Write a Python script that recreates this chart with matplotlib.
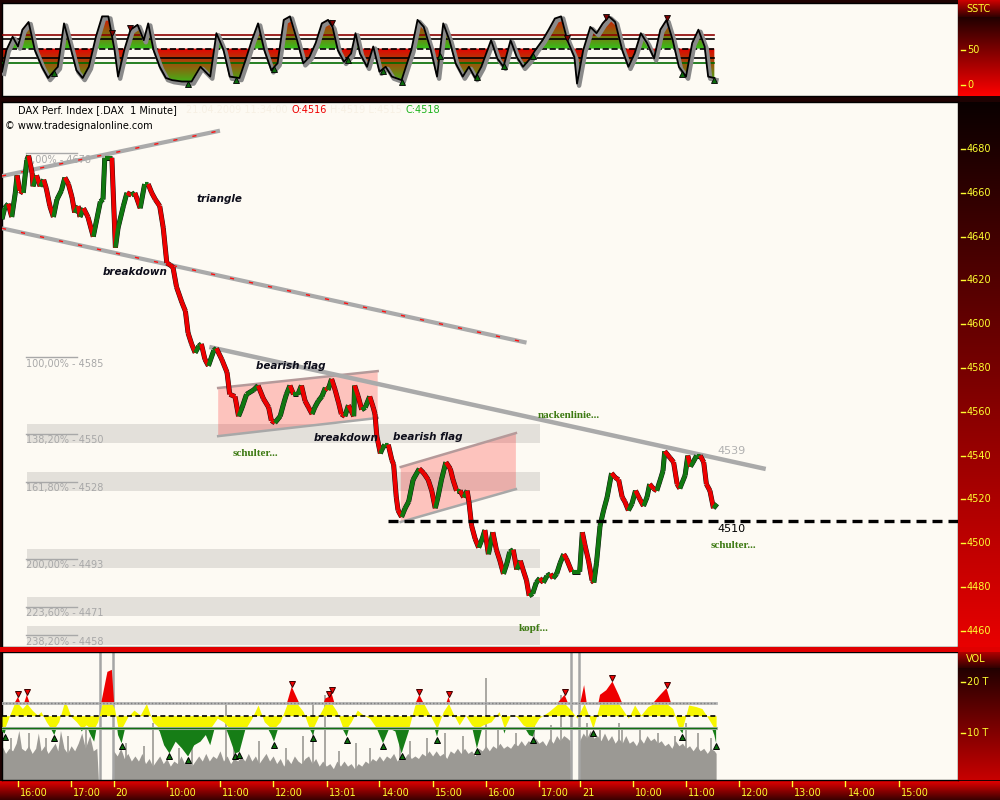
import numpy as np
import matplotlib
matplotlib.use("Agg")
import matplotlib.pyplot as plt
from matplotlib.collections import LineCollection
from matplotlib.colors import LinearSegmentedColormap
from matplotlib.patches import Rectangle, Polygon
from matplotlib.path import Path
import matplotlib.patheffects as pe

# ---------------- data (x = trading-minute index from first bar) ----------------
price_m = [0, 3, 7, 11, 15, 17, 20, 24, 28, 30, 34, 35, 39, 43, 47, 50, 54, 58, 62, 67,
           71, 75, 79, 82, 86, 88, 92, 97, 103, 107, 111, 114, 116, 124, 128, 131, 137, 141, 146, 150,
           156, 161, 165, 169, 173, 178, 182, 186, 190, 193, 197, 203, 207, 210, 214, 218, 222, 225, 229, 233,
           239, 242, 248, 254, 257, 263, 267, 271, 276, 284, 289, 295, 301, 304, 308, 314, 318, 321, 325, 329,
           334, 338, 342, 346, 350, 353, 357, 361, 365, 368, 372, 376, 380, 383, 387, 391, 397, 398, 402, 406,
           410, 415, 419, 421, 423, 427, 429, 432, 436, 440, 442, 445, 447, 451, 455, 459, 464, 471, 476, 481,
           485, 489, 492, 496, 501, 506, 509, 513, 517, 521, 525, 527, 530, 534, 538, 542, 545, 549, 554, 558,
           562, 566, 570, 573, 577, 581, 585, 588, 592, 595, 599, 603, 607, 611, 615, 619, 622, 626, 630, 634,
           637, 643, 652, 655, 658, 662, 666, 668, 671, 675, 679, 683, 688, 692, 696, 700, 703, 707, 711, 715,
           720, 724, 728, 731, 735, 739, 743, 746, 748, 754, 758, 762, 765, 771, 774, 777, 780, 784, 788, 792,
           795, 799, 803, 807]
price_close = [4648, 4653, 4655, 4649, 4660, 4668, 4661, 4660, 4675, 4677, 4669, 4663, 4668, 4663, 4666, 4662, 4654, 4649, 4657, 4661,
               4667, 4664, 4658, 4651, 4654, 4649, 4653, 4649, 4640, 4648, 4656, 4657, 4676, 4676, 4635, 4644, 4654, 4660, 4659, 4660,
               4653, 4664, 4664, 4660, 4657, 4654, 4644, 4628, 4627, 4626, 4617, 4610, 4606, 4596, 4591, 4587, 4590, 4591, 4584, 4581,
               4588, 4589, 4584, 4578, 4568, 4567, 4558, 4562, 4568, 4570, 4572, 4566, 4562, 4556, 4555, 4558, 4564, 4568, 4572, 4568,
               4568, 4572, 4565, 4562, 4559, 4562, 4565, 4567, 4571, 4570, 4575, 4570, 4564, 4559, 4558, 4563, 4558, 4572, 4567, 4561,
               4562, 4567, 4562, 4559, 4549, 4541, 4543, 4545, 4545, 4538, 4536, 4521, 4515, 4512, 4516, 4519, 4529, 4534, 4532, 4529,
               4524, 4516, 4521, 4529, 4537, 4534, 4529, 4524, 4524, 4521, 4524, 4519, 4508, 4502, 4498, 4502, 4506, 4495, 4505, 4497,
               4492, 4486, 4491, 4496, 4497, 4488, 4492, 4488, 4483, 4476, 4477, 4482, 4484, 4482, 4485, 4486, 4484, 4486, 4491, 4495,
               4493, 4487, 4487, 4505, 4499, 4492, 4483, 4482, 4491, 4508, 4515, 4521, 4532, 4530, 4529, 4521, 4519, 4515, 4518, 4524,
               4520, 4517, 4521, 4527, 4525, 4524, 4529, 4533, 4542, 4539, 4537, 4527, 4525, 4531, 4540, 4535, 4537, 4540, 4540, 4537,
               4527, 4524, 4516, 4518]

# SSTC oscillator
sstc_m = [0, 5, 12, 18, 23, 30, 37, 45, 52, 63, 70, 77, 84, 91, 98, 106, 113, 120, 127, 131,
          138, 145, 153, 160, 165, 171, 178, 185, 192, 203, 214, 224, 235, 242, 250, 257, 268, 275, 282, 289,
          296, 304, 311, 318, 325, 333, 340, 347, 354, 361, 368, 373, 379, 386, 394, 399, 404, 412, 419, 426,
          433, 440, 451, 462, 469, 476, 484, 491, 498, 505, 512, 520, 527, 534, 541, 552, 559, 566, 574, 581,
          588, 595, 602, 610, 617, 624, 631, 638, 646, 649, 656, 664, 671, 678, 685, 692, 700, 707, 714, 721,
          728, 736, 743, 750, 757, 764, 772, 779, 786, 793, 797, 804]
sstc_val = [19, 50, 69, 55, 79, 90, 50, 26, 10, 26, 88, 55, 21, 10, 26, 69, 98, 98, 50, 12,
            50, 79, 86, 64, 88, 50, 26, 10, 7, 5, 5, 26, 12, 74, 50, 12, 10, 36, 64, 88,
            50, 21, 31, 93, 98, 64, 31, 40, 60, 88, 93, 83, 50, 33, 45, 74, 45, 26, 55, 19,
            26, 12, 7, 50, 93, 83, 50, 12, 88, 64, 31, 12, 26, 10, 26, 64, 38, 26, 64, 40,
            26, 36, 50, 64, 79, 95, 98, 64, 40, 2, 50, 83, 74, 88, 98, 90, 50, 26, 45, 74,
            60, 38, 79, 93, 64, 26, 12, 60, 79, 55, 12, 10]
sstc_levels = [71, 65, 52, 38, 31]
sstc_low_marks_m = [59, 210, 264, 307, 390, 430, 451, 494, 536, 567, 599, 768, 804]
sstc_high_marks_m = [124, 145, 372, 638, 682, 750]

# volume (thousands) and smoothed volume indicator
vol_m = [0, 4, 8, 12, 16, 19, 22, 26, 30, 34, 38, 41, 44, 48, 52, 56, 60, 63, 66, 70,
         74, 78, 82, 86, 90, 94, 99, 103, 107, 109, 124,
         126, 130, 134, 138, 142, 146, 150, 154, 158, 162, 166, 170, 174, 178, 182, 186, 190, 194, 198, 202,
         206, 210, 214, 218, 222, 226, 230, 234, 238, 242, 246, 250, 254, 258, 262, 266, 270, 274, 278, 282,
         286, 290, 294, 298, 302, 306, 310, 314, 318, 322, 326, 330, 334, 338, 342, 346, 350, 354, 358, 362,
         366, 370, 374, 378, 382, 386, 390, 394, 398, 402, 406, 410, 414, 418, 422, 426, 430, 434, 438, 442,
         446, 450, 454, 458, 462, 466, 470, 474, 478, 482, 486, 490, 494, 498, 502, 506, 510, 514, 518, 522,
         526, 530, 534, 538, 542, 546, 550, 554, 558, 562, 566, 570, 574, 578, 582, 586, 590, 594, 598, 602,
         606, 610, 614, 618, 622, 626, 630, 634, 638, 641, 642, 651,
         652, 656, 660, 664, 668, 672, 676, 680, 684, 688, 692, 696, 700, 704, 708, 712, 716, 720, 724, 728,
         732, 736, 740, 744, 748, 752, 756, 760, 764, 768, 772, 776, 780, 784, 788, 792, 796, 800, 804, 806]
vol_v = [7.5, 6.0, 7.0, 6.5, 8.0, 10.5, 7.0, 6.5, 7.5, 6.0, 7.0, 10.0, 6.5, 7.5, 6.0, 7.0, 8.0, 6.5, 10.5, 7.0,
         6.0, 7.5, 6.5, 8.0, 10.0, 7.0, 9.5, 6.5, 7.0, 0, 0,
         6.5, 5.5, 7.0, 5.0, 6.0, 4.5, 5.5, 4.5, 6.0, 4.0, 5.0, 3.5, 4.5, 5.5, 4.0, 5.0, 3.5, 4.5, 4.0, 5.5,
         4.0, 5.0, 3.5, 4.5, 5.5, 4.5, 6.0, 4.5, 5.5, 5.0, 6.5, 4.5, 5.5, 4.0, 5.0, 4.5, 5.5, 4.5, 6.0, 4.5,
         5.5, 4.0, 5.0, 6.0, 4.5, 5.5, 4.0, 5.0, 3.5, 5.0, 4.0, 5.5, 4.5, 4.0, 5.0, 5.5, 4.0, 5.0, 3.5, 4.5,
         3.5, 4.0, 3.0, 4.5, 3.5, 4.5, 3.5, 4.0, 3.0, 4.0, 3.5, 4.5, 4.0, 5.0, 4.5, 5.5, 4.5, 5.5, 5.0, 6.0,
         4.5, 5.5, 5.0, 6.0, 5.0, 5.5, 5.0, 6.0, 5.5, 6.5, 5.5, 6.5, 5.5, 6.0, 5.0, 6.5, 6.0, 7.0, 6.0, 7.0,
         6.0, 6.5, 5.5, 7.0, 6.5, 7.5, 6.5, 7.5, 7.0, 8.0, 7.0, 7.5, 7.0, 8.0, 7.5, 8.5, 7.5, 8.5, 8.0, 9.0,
         8.0, 8.5, 7.5, 9.0, 8.0, 9.5, 8.5, 9.5, 9.0, 8.5, 0, 0,
         8.5, 10.0, 9.0, 10.5, 9.0, 9.5, 8.5, 10.0, 8.5, 9.5, 8.0, 9.0, 8.0, 9.5, 8.0, 8.5, 7.5, 9.0, 8.0, 9.5,
         8.5, 9.0, 8.0, 8.5, 7.5, 8.0, 7.0, 8.5, 7.5, 8.0, 7.0, 7.5, 6.5, 7.5, 6.5, 7.0, 6.0, 7.0, 6.5, 6.0]
vol_spike_m = [10, 30, 50, 75, 95, 140, 160, 170, 200, 215, 253, 262, 290, 320, 340, 351, 365, 380, 400, 415,
               449, 460, 480, 500, 520, 546, 560, 580, 600, 620, 631, 660, 675, 696, 700, 720, 740, 760, 772, 785, 800]
vol_spike_v = [9.0, 10.0, 9.0, 9.5, 11.0, 8.0, 7.5, 12.0, 7.0, 9.0, 15.5, 8.0, 8.5, 7.0, 9.5, 16.0, 17.5, 6.5, 8.0, 7.0,
               11.0, 8.5, 9.0, 10.0, 9.5, 20.8, 11.0, 10.0, 12.0, 11.5, 17.5, 12.0, 11.0, 12.0, 10.5, 11.0, 10.0, 9.5, 12.0, 10.0, 9.0]
day_break_m = [111, 125, 642, 651]

volind_m = [0, 3, 8, 14, 18, 23, 28, 34, 40, 44, 50, 55, 59, 64, 70, 73, 78, 84, 90, 95,
            100, 104, 108, 113, 119, 124, 127, 131, 135, 142, 149, 156, 163, 170, 178, 183, 189, 196, 203, 210,
            217, 224, 230, 235, 243, 250, 257, 263, 268, 275, 282, 289, 296, 304, 307, 314, 322, 327, 333, 340,
            347, 351, 358, 365, 369, 372, 378, 385, 389, 394, 401, 408, 415, 423, 430, 437, 444, 451, 459, 466,
            471, 476, 484, 491, 498, 504, 510, 516, 523, 530, 536, 543, 552, 561, 567, 574, 581, 588, 595, 599,
            606, 617, 628, 635, 642, 649, 657, 662, 667, 675, 682, 689, 696, 707, 714, 721, 729, 736, 743, 750,
            757, 764, 768, 775, 783, 790, 797, 804, 806]
volind_v = [10.3, 9.9, 13.2, 15.8, 17.1, 14.8, 17.5, 14.5, 13.5, 14.2, 12.2, 10.9, 9.6, 12.2, 16.1, 15.5, 13.2, 12.2, 10.3, 11.6,
            9.6, 8.3, 12.2, 16.8, 22.0, 22.4, 14.8, 9.6, 8.0, 13.2, 14.5, 13.5, 16.1, 12.2, 10.3, 7.6, 6.0, 8.3, 7.0, 5.4,
            7.6, 8.3, 9.6, 7.6, 12.9, 12.2, 9.0, 6.0, 6.3, 10.9, 12.9, 15.5, 12.2, 9.6, 8.3, 12.2, 16.1, 19.1, 16.8, 14.2,
            10.9, 9.6, 13.5, 16.8, 17.1, 17.8, 14.2, 10.6, 9.3, 12.2, 14.5, 13.5, 12.9, 10.9, 8.0, 10.9, 10.3, 6.0, 10.3, 15.5,
            17.5, 15.8, 13.2, 9.3, 14.2, 17.1, 13.5, 11.6, 13.5, 11.6, 7.0, 11.6, 12.2, 14.2, 9.9, 13.5, 13.2, 11.6, 9.6, 9.3,
            12.9, 14.2, 16.1, 17.5, 14.5, 12.9, 19.4, 13.5, 10.6, 17.5, 18.4, 20.1, 17.5, 12.9, 15.5, 13.5, 15.2, 16.1, 17.5, 18.8,
            14.8, 10.9, 9.9, 15.5, 15.2, 14.8, 12.9, 9.6, 8.0]
volind_hi, volind_mid, volind_lo = 15.8, 13.4, 10.9
vol_high_marks_m = [18, 28, 327, 369, 372, 471, 504, 635, 689, 750]
vol_low_marks_m = [3, 59, 135, 189, 210, 263, 268, 307, 351, 389, 430, 451, 491, 536, 599, 667, 768, 806]

# Fibonacci levels
fib_pct = ["0,00%", "100,00%", "138,20%", "161,80%", "200,00%", "223,60%", "238,20%"]
fib_level = [4678, 4585, 4550, 4528, 4493, 4471, 4458]
fib_band = [False, False, True, True, True, True, True]

# drawing tools (anchor time index, price)
tri_upper_m, tri_upper_p = [0, 246], [4667.7, 4688.4]
tri_lower_m, tri_lower_p = [0, 592], [4643.8, 4591.6]
neck_m, neck_p = [234, 862], [4589.6, 4533.9]
flag1_m = [244, 424, 424, 244]
flag1_p = [4570.9, 4578.6, 4557.2, 4548.9]
flag2_m = [450, 580, 580, 450]
flag2_p = [4534.8, 4550.3, 4524.7, 4509.7]
support_m, support_p = 436, 4510

notes_bold = [("triangle", 245, 4657), ("breakdown", 150, 4624), ("bearish flag", 326, 4581),
              ("breakdown", 388, 4548), ("bearish flag", 480, 4548.5)]
notes_green = [("schulter...", 286, 4541), ("nackenlinie...", 640, 4558.5),
               ("kopf...", 600, 4461), ("schulter...", 826, 4499)]

# x axis labels
session_open_m = [18, 126, 652]
session_open_t = [16 * 60, 9 * 60, 9 * 60]
tick_labels = ["16:00", "17:00", "20", "10:00", "11:00", "12:00", "13:01", "14:00", "15:00",
               "16:00", "17:00", "21", "10:00", "11:00", "12:00", "13:00", "14:00", "15:00"]
tick_session = [0, 0, 1, 1, 1, 1, 1, 1, 1, 1, 1, 2, 2, 2, 2, 2, 2, 2]
tick_time = ["16:00", "17:00", "9:00", "10:00", "11:00", "12:00", "13:01", "14:00", "15:00",
             "16:00", "17:00", "9:00", "10:00", "11:00", "12:00", "13:00", "14:00", "15:00"]
price_ticks = list(range(4460, 4681, 20))

# ---------------- layout ----------------
W, H = 1000, 800
XMAX = 1079
PRICE_LIM = (4452.6, 4701.5)
SSTC_LIM = (-15.7, 117.1)
VOL_LIM = (0.78, 25.9)
CREAM = "#fdfaf3"
YELLOW = "#ffff30"


def box(x0, y0, x1, y1):
    return [x0 / W, 1 - y1 / H, (x1 - x0) / W, (y1 - y0) / H]


def strip(rect, lo, hi, top, bottom):
    a = fig.add_axes(rect)
    cmap = LinearSegmentedColormap.from_list("s", [bottom, top])
    a.imshow(np.linspace(0, 1, 256)[:, None], cmap=cmap, origin="lower",
             aspect="auto", extent=[0, 1, lo, hi])
    a.set_xlim(0, 1)
    a.set_ylim(lo, hi)
    a.axis("off")
    return a


def panel(rect, ylim):
    a = fig.add_axes(rect)
    a.set_facecolor(CREAM)
    a.set_xlim(0, XMAX)
    a.set_ylim(*ylim)
    a.set_xticks([])
    a.set_yticks([])
    for s in a.spines.values():
        s.set_color("black")
        s.set_linewidth(1)
    return a


def grad_fill(a, x, y, base, above, far, c_near, c_far, z):
    x = np.asarray(x, float)
    y = np.asarray(y, float)
    where = y >= base if above else y <= base
    coll = a.fill_between(x, y, base, where=where, interpolate=True,
                          facecolor="none", edgecolor="none")
    path = Path.make_compound_path(*coll.get_paths())
    if above:
        lo, hi, cols = base, far, [c_near, c_far]
    else:
        lo, hi, cols = far, base, [c_far, c_near]
    cmap = LinearSegmentedColormap.from_list("f", cols)
    im = a.imshow(np.linspace(0, 1, 256)[:, None], cmap=cmap, origin="lower",
                  aspect="auto", extent=[x.min(), x.max(), lo, hi], zorder=z)
    im.set_clip_path(path, a.transData)


fig = plt.figure(figsize=(10, 8), dpi=100, facecolor="#1e0202")

# separators / background bands
fig.add_artist(Rectangle((0, 1 - 652 / H), 1, 5 / H, transform=fig.transFigure,
                         facecolor="#e00000", edgecolor="none"))
xs = fig.add_axes(box(0, 781, 1000, 800))
cm_x = LinearSegmentedColormap.from_list("x", ["#3a0000", "#e00000"])
xs.imshow(np.linspace(0, 1, 64)[:, None], cmap=cm_x, origin="lower", aspect="auto", extent=[0, 1, 0, 1])
xs.axis("off")

# ---------------- SSTC panel ----------------
at = panel(box(2, 3, 958, 96), SSTC_LIM)
grad_fill(at, sstc_m, sstc_val, sstc_levels[2], True, 100, "#33c21a", "#e80000", 2)
grad_fill(at, sstc_m, sstc_val, sstc_levels[2], False, 0, "#e80000", "#33c21a", 2)
lvl_col = ["#8b0000", "black", "black", "black", "#006a00"]
lvl_ls = ["-", "-", "--", "-", "-"]
for lv, c, ls in zip(sstc_levels, lvl_col, lvl_ls):
    at.plot([0, sstc_m[-1]], [lv, lv], color=c, ls=ls, lw=1.2, zorder=3)
at.plot(sstc_m, sstc_val, color="black", lw=1.3, zorder=5,
        path_effects=[pe.SimpleLineShadow(offset=(1.5, -1.5), shadow_color="#8a8a8a",
                                          alpha=1, linewidth=3.2), pe.Normal()])
at.plot(sstc_low_marks_m, np.interp(sstc_low_marks_m, sstc_m, sstc_val) - 3, "^",
        ms=4.5, color="#0b6b0b", mec="black", mew=0.6, zorder=6)
at.plot(sstc_high_marks_m, np.interp(sstc_high_marks_m, sstc_m, sstc_val) + 3, "v",
        ms=4.5, color="#7a0000", mec="black", mew=0.6, zorder=6)

st_head = strip(box(958, 0, 1000, 17), 0, 1, "#d00000", "#300000")
st_head.text(0.2, 0.45, "SSTC", color=YELLOW, fontsize=7, va="center")
st = strip(box(958, 17, 1000, 96), -15.7, 97.1, "#200000", "#ff0000")
for v in [50, 0]:
    st.plot([0.08, 0.17], [v, v], color=YELLOW, lw=1)
    st.text(0.22, v, str(v), color=YELLOW, fontsize=7, va="center")

# ---------------- price panel ----------------
ax = panel(box(2, 102, 958, 647), PRICE_LIM)

for pct, lvl, band in zip(fib_pct, fib_level, fib_band):
    if band:
        ax.add_patch(Rectangle((28, lvl - 4.3), 607 - 28, 8.6, facecolor="#e3e0da",
                               edgecolor="none", zorder=1))
    ax.plot([27, 85], [lvl, lvl], color="#a8a8a8", lw=1, zorder=2)
    ax.text(27, lvl - 0.7, f"{pct} - {lvl}", fontsize=7, color="#a8a8a8",
            va="top", ha="left", zorder=2)

for fm, fp in [(flag1_m, flag1_p), (flag2_m, flag2_p)]:
    ax.add_patch(Polygon(np.column_stack([fm, fp]), closed=True, facecolor="#ff0000",
                         alpha=0.22, edgecolor="none", zorder=2))
    ax.plot(fm[:2], fp[:2], color="#b59a9a", lw=1.8, zorder=3)
    ax.plot(fm[2:], fp[2:], color="#a8a8a8", lw=1.8, zorder=3)

for lm, lp in [(tri_upper_m, tri_upper_p), (tri_lower_m, tri_lower_p)]:
    ax.plot(lm, lp, color="#aaaaaa", lw=3, solid_capstyle="butt", zorder=3)
    ax.plot(lm, lp, color="#ff1010", lw=1, dashes=(3, 11), zorder=3)
ax.plot(neck_m, neck_p, color="#aaaaaa", lw=3.2, solid_capstyle="butt", zorder=3)
ax.plot([support_m, XMAX], [support_p, support_p], color="black", lw=2.4,
        dashes=(3, 1.8), zorder=7)

pts = np.column_stack([price_m, price_close])
segs = np.stack([pts[:-1], pts[1:]], axis=1)
up = np.diff(price_close) >= 0
seg_col = np.where(up, "#107810", "#ee0000")
ax.add_collection(LineCollection(segs, colors="#101010", linewidths=3.6, capstyle="butt", zorder=5))
ax.add_collection(LineCollection(segs, colors=seg_col, linewidths=3.0, capstyle="butt", zorder=6))

for txt, m, p in notes_bold:
    ax.text(m, p, txt, fontsize=7.5, fontweight="bold", fontstyle="italic",
            color="#0d0d1a", ha="center", va="center", zorder=8)
for txt, m, p in notes_green:
    ax.text(m, p, txt, fontsize=8, fontweight="bold", family="Liberation Serif",
            color="#3d7a12", ha="center", va="center", zorder=8)
ax.text(808, support_p - 3.6, str(support_p), fontsize=8, color="black", ha="left", va="center", zorder=8)
ax.text(808, 4542, "4539", fontsize=8, color="#b0b0b0", ha="left", va="center", zorder=8)

fig.text(18 / W, 1 - 110 / H, "DAX Perf. Index [.DAX  1 Minute]", fontsize=7, va="center")
fig.text(186 / W, 1 - 110 / H, "21.04.2009 11:34:00 -", fontsize=7, va="center", color="#f7f0e4")
fig.text(292 / W, 1 - 110 / H, "O:4516", fontsize=7, va="center", color="#ee0000")
fig.text(330 / W, 1 - 110 / H, "H:4519 L:4515", fontsize=7, va="center", color="#f7f0e4")
fig.text(405 / W, 1 - 110 / H, "C:4518", fontsize=7, va="center", color="#1db31d")
fig.text(5 / W, 1 - 126 / H, "\u00a9 www.tradesignalonline.com", fontsize=7, va="center")

sp = strip(box(958, 102, 1000, 647), *PRICE_LIM, "#0a0000", "#e80000")
for v in price_ticks:
    sp.plot([0.08, 0.17], [v, v], color=YELLOW, lw=1)
    sp.text(0.2, v, str(v), color=YELLOW, fontsize=7, va="center")

# ---------------- volume panel ----------------
av = panel(box(2, 652, 958, 780), VOL_LIM)
av.fill_between(vol_m, vol_v, 0, color="#9b9994", lw=0, zorder=1)
av.vlines(vol_spike_m, 0, vol_spike_v, color="#9b9994", lw=1.2, zorder=1)
av.vlines(day_break_m, *VOL_LIM, color="#a5a5a5", lw=1.8, zorder=2)
vi = np.asarray(volind_v)
av.fill_between(volind_m, np.clip(vi, volind_lo, volind_hi), volind_mid,
                color="#f6f600", lw=0, zorder=3)
av.fill_between(volind_m, vi, volind_hi, where=vi > volind_hi, interpolate=True,
                color="#ee0000", lw=0, zorder=3)
av.fill_between(volind_m, vi, volind_lo, where=vi < volind_lo, interpolate=True,
                color="#167d16", lw=0, zorder=3)
av.plot([0, 806], [volind_hi, volind_hi], color="#b4b4b4", lw=2, zorder=4)
av.plot([0, 806], [volind_hi, volind_hi], color="#808080", lw=1, dashes=(1, 1.5), zorder=4)
av.plot([0, 806], [volind_mid, volind_mid], color="black", lw=1.2, dashes=(3, 2), zorder=4)
av.plot([0, 806], [volind_lo, volind_lo], color="#b4b4b4", lw=2.2, zorder=4)
av.plot([0, 806], [volind_lo, volind_lo], color="#107010", lw=1, zorder=4)
av.plot(vol_high_marks_m, np.interp(vol_high_marks_m, volind_m, volind_v) + 0.6, "v",
        ms=5, color="#ee0000", mec="#3a0000", mew=0.7, zorder=5)
av.plot(vol_low_marks_m, np.interp(vol_low_marks_m, volind_m, volind_v) - 0.6, "^",
        ms=5, color="#0b6b0b", mec="black", mew=0.7, zorder=5)

sv_head = strip(box(958, 648, 1000, 668), 0, 1, "#d00000", "#300000")
sv_head.text(0.2, 0.45, "VOL", color=YELLOW, fontsize=7, va="center")
sv = strip(box(958, 668, 1000, 780), 0.78, 22.75, "#200000", "#c80000")
for v in [20, 10]:
    sv.plot([0.08, 0.17], [v, v], color=YELLOW, lw=1)
    sv.text(0.22, v, f"{v} T", color=YELLOW, fontsize=7, va="center")

# ---------------- time axis ----------------
axx = fig.add_axes(box(2, 781, 958, 800))
axx.set_xlim(0, XMAX)
axx.set_ylim(0, 1)
axx.axis("off")
for lab, s, t in zip(tick_labels, tick_session, tick_time):
    hh, mm = t.split(":")
    pos = session_open_m[s] + int(hh) * 60 + int(mm) - session_open_t[s]
    axx.plot([pos, pos], [1, 0.72], color=YELLOW, lw=1)
    axx.annotate(lab, (pos, 0.38), xytext=(1.5, 0), textcoords="offset points",
                 color=YELLOW, fontsize=7, va="center", ha="left")

fig.savefig("out.png", dpi=100, facecolor=fig.get_facecolor())
